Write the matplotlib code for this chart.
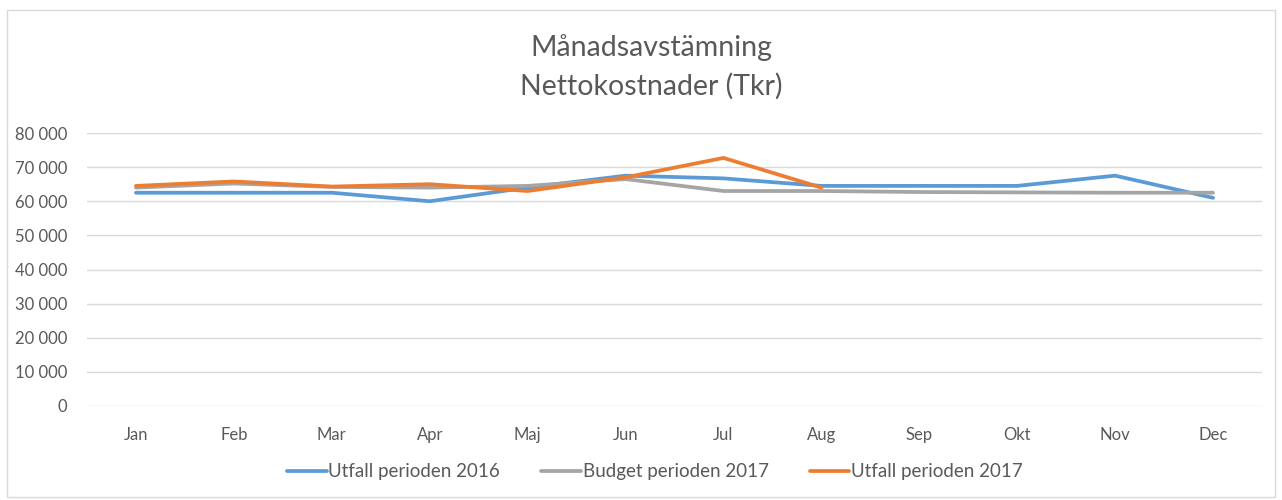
import matplotlib
matplotlib.use("Agg")
import matplotlib.pyplot as plt
from matplotlib.ticker import FuncFormatter

months = ["Jan", "Feb", "Mar", "Apr", "Maj", "Jun", "Jul", "Aug", "Sep", "Okt", "Nov", "Dec"]
utfall_2016 = [62500, 62500, 62500, 60000, 64000, 67500, 66700, 64500, 64500, 64500, 67500, 61000]
budget_2017 = [64000, 65200, 64200, 64000, 64500, 66500, 63000, 63000, 62700, 62600, 62500, 62500]
utfall_2017 = [64500, 65800, 64300, 65000, 63000, 67000, 72700, 64000]
series_names = ["Utfall perioden 2016", "Budget perioden 2017", "Utfall perioden 2017"]
yticks = [0, 10000, 20000, 30000, 40000, 50000, 60000, 70000, 80000]

plt.rcParams['font.family'] = ['Lato', 'DejaVu Sans']
txt = "#595959"

fig = plt.figure(figsize=(12.82, 5.0), dpi=100)
# chart border
border = plt.Rectangle((7/1282, 3/500), 1268/1282, 487/500, transform=fig.transFigure,
                       fill=False, edgecolor="#D9D9D9", linewidth=1)
fig.patches.append(border)

ax = fig.add_axes([87/1282, 1 - 406/500, 1175/1282, 273/500])
x = list(range(len(months)))
ax.plot(x, utfall_2016, color="#5B9BD5", lw=2.7, label=series_names[0], solid_capstyle="round", zorder=3)
ax.plot(x, budget_2017, color="#A5A5A5", lw=2.7, label=series_names[1], solid_capstyle="round", zorder=4)
ax.plot(x[:len(utfall_2017)], utfall_2017, color="#ED7D31", lw=2.7, label=series_names[2], solid_capstyle="round", zorder=5)

ax.set_xlim(-0.5, 11.5)
ax.set_ylim(0, 80000)
ax.set_yticks(yticks)
ax.yaxis.set_major_formatter(FuncFormatter(lambda v, p: f"{int(v):,}".replace(",", " ")))
ax.set_xticks(x)
ax.set_xticklabels(months)
ax.grid(axis="y", color="#D9D9D9", lw=1)
ax.set_axisbelow(True)
for s in ax.spines.values():
    s.set_visible(False)
ax.tick_params(axis="both", length=0, colors=txt, labelsize=12)
ax.tick_params(axis="y", pad=14)
ax.tick_params(axis="x", pad=15)

fig.text(0.508, 1 - 48/500, "Månadsavstämning", ha="center", va="center", fontsize=20.5, color=txt)
fig.text(0.508, 1 - 86/500, "Nettokostnader (Tkr)", ha="center", va="center", fontsize=20.5, color=txt)

leg = fig.legend(loc="center", bbox_to_anchor=(0.511, 1 - 472/500), ncol=3, frameon=False,
                 fontsize=13.5, handlelength=2.1, handletextpad=0.1, columnspacing=2.2)
for t in leg.get_texts():
    t.set_color(txt)

fig.savefig("out.png", dpi=100)
